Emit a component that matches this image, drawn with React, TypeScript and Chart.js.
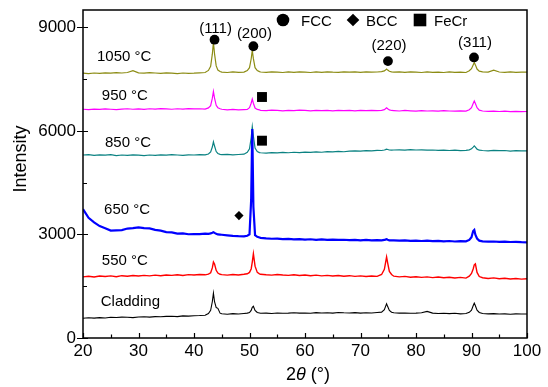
import React, { useEffect, useRef } from "react";
import { Chart, registerables } from "chart.js";

Chart.register(...registerables);

const FONT = '"Liberation Sans", Arial, Helvetica, sans-serif';

// 2θ sampling grid (degrees), denser around the reflections
const twoTheta = [
  20, 21, 22, 23, 24, 25, 26, 27, 28, 29, 30, 31, 32, 33, 34, 35, 36, 37, 38, 39, 40, 41, 42,
  42.6, 43.0, 43.3, 43.5, 43.7, 44.0, 44.3, 44.7,
  45, 46, 47, 48, 49,
  49.6, 50.0, 50.3, 50.5, 50.7, 51.0, 51.4, 51.8,
  52, 53, 54, 55, 56, 57, 58, 59, 60, 61, 62, 63, 64, 65, 66, 67, 68, 69, 70, 71, 72, 73,
  73.8, 74.3, 74.5, 74.7, 74.9, 75.2, 75.6,
  76, 77, 78, 79, 80, 81, 82, 83, 84, 85, 86, 87, 88, 89,
  89.6, 90.0, 90.3, 90.5, 90.7, 91.0, 91.4,
  92, 93, 94, 95, 96, 97, 98, 99, 100,
];

// Stacked intensities (offset patterns)
const cladding = [
  570, 585, 575, 590, 580, 600, 595, 605, 600, 590, 610, 615, 605, 620, 615, 625, 630, 620, 640, 635, 645, 650, 660,
  710, 800, 1050, 1300, 1050, 880, 860, 720,
  700, 690, 705, 695, 710,
  720, 735, 800, 890, 920, 800, 740, 725,
  715, 720, 710, 725, 715, 720, 730, 720, 725, 715, 735, 725, 730, 720, 740, 730, 725, 735, 720, 730, 725, 740,
  750, 820, 910, 990, 910, 800, 745,
  730, 720, 725, 715, 720, 730, 770, 720, 710, 715, 705, 715, 700, 710,
  745, 805, 935, 1010, 935, 805, 740,
  710, 700, 705, 695, 700, 690, 700, 695, 695,
];

const t550 = [
  1770, 1790, 1765, 1795, 1780, 1800, 1775, 1805, 1790, 1810, 1795, 1815, 1800, 1820, 1805, 1825, 1815, 1830, 1810, 1835, 1825, 1840, 1830,
  1850, 1890, 2030, 2200, 2140, 1960, 1880, 1845,
  1835, 1820, 1840, 1825, 1845,
  1860, 1900, 2000, 2200, 2440, 2080, 1900, 1860,
  1845, 1830, 1820, 1840, 1825, 1815, 1830, 1810, 1825, 1805, 1820, 1800, 1815, 1795, 1810, 1790, 1805, 1785, 1800, 1780, 1795, 1785,
  1840, 1990, 2170, 2350, 2170, 1930, 1840,
  1790, 1770, 1785, 1760, 1775, 1755, 1770, 1750, 1765, 1745, 1760, 1740, 1755, 1735,
  1790, 1870, 2000, 2120, 2150, 1900, 1780,
  1745, 1725, 1740, 1715, 1730, 1710, 1725, 1705, 1715,
];

const t650 = [
  3730, 3480, 3350, 3240, 3180, 3110, 3120, 3125, 3170, 3180, 3205, 3180, 3175, 3130, 3110, 3065, 3060, 3025, 3030, 3005, 3010, 3010, 3025,
  3015, 3030, 3050, 3065, 3045, 3020, 3000, 2995,
  2990, 2975, 2960, 2950, 2945,
  2960, 3000, 4000, 6050, 3800, 2980, 2930, 2910,
  2900, 2885, 2875, 2880, 2865, 2870, 2855, 2865, 2850, 2860, 2845, 2855, 2840, 2850, 2840, 2845, 2835, 2840, 2830, 2840, 2830, 2835,
  2830, 2840, 2850, 2860, 2845, 2830, 2825,
  2830, 2820, 2825, 2815, 2820, 2810, 2818, 2805, 2812, 2800, 2810, 2795, 2805, 2800,
  2840, 2920, 3100, 3130, 2990, 2880, 2820,
  2800, 2790, 2795, 2785, 2790, 2780, 2785, 2775, 2770,
];

const t850 = [
  5300, 5310, 5290, 5305, 5295, 5310, 5285, 5300, 5290, 5305, 5295, 5285, 5300, 5290, 5305, 5295, 5310, 5300, 5290, 5305, 5300, 5310, 5305,
  5330, 5390, 5530, 5680, 5560, 5400, 5345, 5320,
  5310, 5320, 5305, 5315, 5325,
  5380, 5480, 5800, 6120, 5850, 5500, 5400, 5370,
  5365, 5355, 5370, 5360, 5375, 5365, 5380, 5370, 5385, 5375, 5390, 5380, 5400, 5390, 5405, 5395, 5410, 5420, 5410, 5425, 5420, 5435,
  5430, 5445, 5455, 5470, 5460, 5445, 5440,
  5445, 5450, 5440, 5455, 5445, 5450, 5440, 5445, 5435, 5440, 5430, 5440, 5425, 5435,
  5450, 5480, 5530, 5565, 5530, 5470, 5440,
  5430, 5420, 5435, 5425, 5430, 5415, 5425, 5420, 5420,
];

const t950 = [
  6625, 6615, 6630, 6620, 6635, 6625, 6615, 6630, 6640, 6625, 6635, 6620, 6640, 6630, 6645, 6635, 6625, 6640, 6630, 6645, 6635, 6640, 6630,
  6665, 6730, 6940, 7140, 6950, 6740, 6670, 6640,
  6625, 6610, 6620, 6605, 6615,
  6620, 6670, 6800, 6920, 6800, 6660, 6620, 6605,
  6595, 6585, 6600, 6590, 6580, 6595, 6585, 6600, 6590, 6580, 6595, 6585, 6590, 6580, 6595, 6585, 6590, 6580, 6595, 6585, 6590, 6585,
  6595, 6615, 6640, 6665, 6640, 6605, 6590,
  6585, 6575, 6590, 6580, 6570, 6585, 6575, 6580, 6570, 6585, 6575, 6570, 6580, 6570,
  6610, 6670, 6790, 6865, 6790, 6670, 6600,
  6575, 6565, 6570, 6560, 6570, 6555, 6565, 6555, 6560,
];

const t1050 = [
  7670, 7660, 7675, 7665, 7680, 7670, 7685, 7675, 7690, 7745, 7680, 7670, 7685, 7675, 7665, 7680, 7670, 7660, 7675, 7665, 7670, 7680, 7690,
  7750, 7870, 8220, 8560, 8230, 7880, 7760, 7720,
  7700, 7690, 7705, 7695, 7700,
  7745, 7830, 8080, 8330, 8090, 7830, 7745, 7715,
  7705, 7695, 7710, 7700, 7690, 7705, 7695, 7710, 7700, 7690, 7705, 7695, 7710, 7700, 7695, 7710, 7700, 7705, 7695, 7710, 7700, 7705,
  7715, 7735, 7760, 7790, 7760, 7725, 7710,
  7700, 7710, 7695, 7705, 7700, 7690, 7705, 7695, 7700, 7690, 7705, 7695, 7700, 7690,
  7740, 7800, 7910, 7980, 7910, 7790, 7730,
  7710, 7700, 7755, 7705, 7695, 7705, 7695, 7700, 7700,
];

const seriesNames = ["Cladding", "550 °C", "650 °C", "850 °C", "950 °C", "1050 °C"];
const seriesValues = [cladding, t550, t650, t850, t950, t1050];

// Axis ticks
const xMajorTicks = [20, 30, 40, 50, 60, 70, 80, 90, 100];
const yMajorTicks = [0, 3000, 6000, 9000];

// Phase markers: FCC reflections with Miller indices, BCC and FeCr
const fccX = [43.7, 50.7, 74.95, 90.45];
const fccY = [8640, 8450, 8020, 8125];
const fccHkl = ["(111)", "(200)", "(220)", "(311)"];
const hklY = [8960, 8800, 8455, 8550];
const bccX = [48.1];
const bccY = [3545];
const fecrX = [52.25, 52.25];
const fecrY = [6980, 5715];

const colors = ["#000000", "#ff0000", "#0000ff", "#0b8282", "#ff00ff", "#8c8c14"];
const widths = [1.1, 1.4, 2.2, 1.2, 1.2, 1.2];
const labelAt = [
  { x: 23.2, y: 1043 },
  { x: 23.4, y: 2232 },
  { x: 23.8, y: 3710 },
  { x: 23.96, y: 5652 },
  { x: 23.4, y: 7014 },
  { x: 22.52, y: 8145 },
];

const pts = (xs: number[], ys: number[]) => xs.map((x, i) => ({ x, y: ys[i] }));

const decor = {
  id: "decor",
  afterDraw(chart: any) {
    const { ctx, chartArea: a, scales } = chart;
    const x = scales.x;
    const y = scales.y;
    ctx.save();
    ctx.strokeStyle = "#000";
    ctx.fillStyle = "#000";
    ctx.lineWidth = 1.5;
    ctx.strokeRect(a.left, a.top, a.right - a.left, a.bottom - a.top);

    ctx.lineWidth = 1.2;
    ctx.beginPath();
    for (let v = 20; v <= 100; v += 5) {
      const px = Math.round(x.getPixelForValue(v)) + 0.5;
      const len = v % 10 === 0 ? 5 : 3.5;
      ctx.moveTo(px, a.bottom);
      ctx.lineTo(px, a.bottom - len);
    }
    for (let v = 0; v <= 9000; v += 1500) {
      const py = Math.round(y.getPixelForValue(v)) + 0.5;
      if (v % 3000 === 0) {
        ctx.moveTo(a.left - 6, py);
        ctx.lineTo(a.left + 5, py);
      } else {
        ctx.moveTo(a.left, py);
        ctx.lineTo(a.left + 4, py);
      }
    }
    ctx.stroke();

    // sample labels
    ctx.font = `15px ${FONT}`;
    ctx.textBaseline = "middle";
    ctx.textAlign = "left";
    seriesNames.forEach((name, i) => {
      ctx.fillText(name, x.getPixelForValue(labelAt[i].x), y.getPixelForValue(labelAt[i].y));
    });

    // Miller indices
    ctx.textAlign = "center";
    fccHkl.forEach((t, i) => {
      ctx.fillText(t, x.getPixelForValue(fccX[i]) + 1, y.getPixelForValue(hklY[i]));
    });

    // phase legend
    const lx = a.left + 200;
    const ly = a.top + 10;
    ctx.beginPath();
    ctx.arc(lx, ly, 6.3, 0, Math.PI * 2);
    ctx.fill();
    ctx.beginPath();
    ctx.moveTo(lx + 70 - 6.3, ly);
    ctx.lineTo(lx + 70, ly - 6.3);
    ctx.lineTo(lx + 70 + 6.3, ly);
    ctx.lineTo(lx + 70, ly + 6.3);
    ctx.closePath();
    ctx.fill();
    ctx.fillRect(lx + 137 - 6.3, ly - 6.3, 12.6, 12.6);
    ctx.textAlign = "left";
    ctx.fillText("FCC", lx + 18, ly + 1.5);
    ctx.fillText("BCC", lx + 83, ly + 1.5);
    ctx.fillText("FeCr", lx + 151, ly + 1.5);

    // axis titles
    const parts: [string, string][] = [
      ["2", `18px ${FONT}`],
      ["θ", `italic 18px ${FONT}`],
      [" (°)", `18px ${FONT}`],
    ];
    let total = 0;
    parts.forEach(([t, f]) => {
      ctx.font = f;
      total += ctx.measureText(t).width;
    });
    let cx = (a.left + a.right) / 2 + 3 - total / 2;
    parts.forEach(([t, f]) => {
      ctx.font = f;
      ctx.fillText(t, cx, 375);
      cx += ctx.measureText(t).width;
    });

    ctx.font = `18px ${FONT}`;
    ctx.translate(21, 159);
    ctx.rotate(-Math.PI / 2);
    ctx.textAlign = "center";
    ctx.fillText("Intensity", 0, 0);
    ctx.restore();
  },
};

export default function App() {
  const ref = useRef<HTMLCanvasElement>(null);

  useEffect(() => {
    if (!ref.current) return;
    Chart.defaults.font.family = FONT;
    const lines = seriesValues.map((vals, i) => ({
      type: "line" as const,
      label: seriesNames[i],
      data: pts(twoTheta, vals),
      borderColor: colors[i],
      borderWidth: widths[i],
      pointRadius: 0,
      tension: 0,
      fill: false,
      order: 2,
    }));
    const markers = [
      {
        type: "scatter" as const,
        label: "FCC",
        data: pts(fccX, fccY),
        pointStyle: "circle",
        pointRadius: 4.9,
        backgroundColor: "#000",
        borderColor: "#000",
        borderWidth: 0,
        order: 0,
      },
      {
        type: "scatter" as const,
        label: "BCC",
        data: pts(bccX, bccY),
        pointStyle: "rectRot",
        pointRadius: 4.6,
        backgroundColor: "#000",
        borderColor: "#000",
        borderWidth: 0,
        order: 0,
      },
      {
        type: "scatter" as const,
        label: "FeCr",
        data: pts(fecrX, fecrY),
        pointStyle: "rect",
        pointRadius: 7,
        backgroundColor: "#000",
        borderColor: "#000",
        borderWidth: 0,
        order: 0,
      },
    ];
    const chart = new Chart(ref.current, {
      type: "line",
      data: { datasets: [...markers, ...lines] as any },
      options: {
        responsive: false,
        animation: false,
        events: [],
        layout: { padding: { left: 0, right: 21, top: 10, bottom: 0 } },
        plugins: { legend: { display: false }, tooltip: { enabled: false } },
        scales: {
          x: {
            type: "linear",
            min: 20,
            max: 100,
            grid: { display: false, drawTicks: false },
            border: { display: false },
            ticks: {
              maxRotation: 0,
              autoSkip: false,
              color: "#000",
              padding: 3,
              font: { size: 17, family: FONT },
              callback: (v: any) => String(v),
            },
            afterBuildTicks: (s: any) => {
              s.ticks = xMajorTicks.map((value) => ({ value }));
            },
            afterFit: (s: any) => {
              s.height = 49;
              s.paddingLeft = 0;
              s.paddingRight = 0;
            },
          },
          y: {
            type: "linear",
            min: 0,
            max: 9500,
            grid: { display: false, drawTicks: false },
            border: { display: false },
            ticks: {
              autoSkip: false,
              color: "#000",
              padding: 7,
              font: { size: 17, family: FONT },
              callback: (v: any) => String(v),
            },
            afterBuildTicks: (s: any) => {
              s.ticks = yMajorTicks.map((value) => ({ value }));
            },
            afterFit: (s: any) => {
              s.width = 83;
              s.paddingTop = 0;
              s.paddingBottom = 0;
            },
          },
        },
      },
      plugins: [decor],
    });
    return () => chart.destroy();
  }, []);

  return (
    <div style={{ position: "absolute", left: 0, top: 0, width: 548, height: 387, background: "#fff" }}>
      <canvas ref={ref} width={548} height={387} style={{ display: "block" }} />
    </div>
  );
}
